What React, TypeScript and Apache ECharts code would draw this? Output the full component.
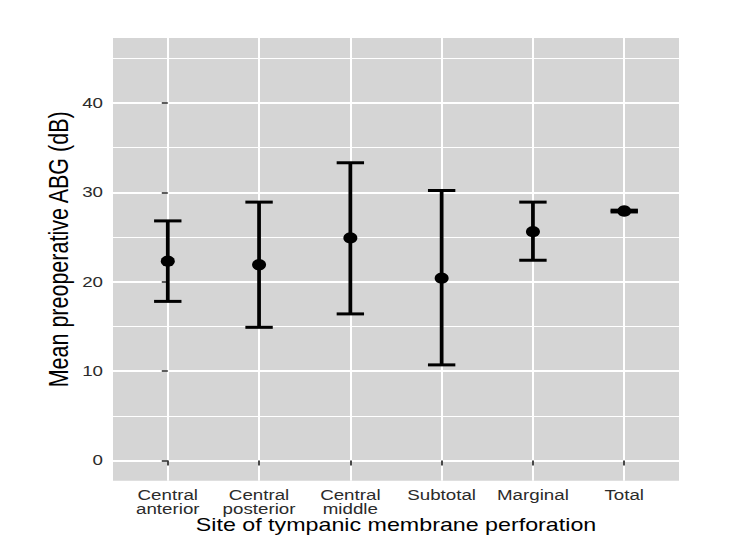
import { useEffect, useRef } from 'react';
import * as echarts from 'echarts';

// Mean preoperative air-bone gap (dB) ± SD by perforation site
const CATEGORIES = ['Central\nanterior', 'Central\nposterior', 'Central\nmiddle', 'Subtotal', 'Marginal', 'Total'];
const MEAN = [22.3, 21.9, 24.9, 20.4, 25.6, 27.9];
const LOWER = [17.8, 14.9, 16.4, 10.7, 22.4, 27.8];
const UPPER = [26.8, 28.9, 33.3, 30.2, 28.9, 28.0];
const Y_TICKS = [0, 10, 20, 30, 40];
const Y_MINOR = [5, 15, 25, 35, 45];
const Y_LIMITS = [0, 45];

const X_TITLE = 'Site of tympanic membrane perforation';
const Y_TITLE = 'Mean preoperative ABG (dB)';

// ggplot-like scale expansion
const Y_PAD = (Y_LIMITS[1] - Y_LIMITS[0]) * 0.05;
const Y_MIN = Y_LIMITS[0] - Y_PAD;
const Y_MAX = Y_LIMITS[1] + Y_PAD;
const X_MIN = -0.6;
const X_MAX = CATEGORIES.length - 1 + 0.6;
const CAP_WIDTH = 0.3;
const STRETCH = 1.25;
const FONT = '"Liberation Sans", Arial, Helvetica, sans-serif';

export default function App() {
  const ref = useRef<HTMLDivElement>(null);

  useEffect(() => {
    if (!ref.current) return;
    const chart = echarts.init(ref.current, null, { renderer: 'svg' });
    const xIdx = CATEGORIES.map((_, i) => i);

    chart.setOption({
      animation: false,
      backgroundColor: '#ffffff',
      grid: {
        left: 113,
        top: 38,
        right: 71,
        bottom: 77.3,
        show: true,
        backgroundColor: '#d5d5d5',
        borderWidth: 0,
      },
      xAxis: {
        type: 'value',
        min: X_MIN,
        max: X_MAX,
        axisLine: { show: false },
        axisTick: { show: true, customValues: xIdx, length: 5, lineStyle: { color: '#333', width: 1.8 } },
        axisLabel: { show: false },
        splitLine: { show: true, lineStyle: { color: '#ffffff', width: 2 } },
      },
      yAxis: [
        {
          type: 'value',
          min: Y_MIN,
          max: Y_MAX,
          axisLine: { show: false },
          axisTick: { show: true, customValues: Y_TICKS, length: 6, lineStyle: { color: '#333', width: 1.6 } },
          axisLabel: { show: false },
          splitLine: { show: true, lineStyle: { color: '#ffffff', width: 2 } },
        },
        {
          type: 'value',
          min: Y_MIN,
          max: Y_MAX,
          position: 'left',
          axisLine: { show: false },
          axisTick: { show: false, customValues: Y_MINOR },
          axisLabel: { show: false },
          splitLine: { show: true, lineStyle: { color: '#ffffff', width: 1.1 } },
        },
      ],
      series: [
        {
          type: 'custom',
          xAxisIndex: 0,
          yAxisIndex: 0,
          data: xIdx.map((i) => [i, LOWER[i], UPPER[i]]),
          renderItem: (_params: any, api: any) => {
            const x = api.value(0);
            const top = api.coord([x, api.value(2)]);
            const bot = api.coord([x, api.value(1)]);
            const half = api.size([CAP_WIDTH, 0])[0] / 2;
            const cap = { stroke: '#000', lineWidth: 3 };
            return {
              type: 'group',
              children: [
                { type: 'line', shape: { x1: top[0], y1: top[1], x2: bot[0], y2: bot[1] }, style: { stroke: '#000', lineWidth: 3.75 } },
                { type: 'line', shape: { x1: top[0] - half, y1: top[1], x2: top[0] + half, y2: top[1] }, style: cap },
                { type: 'line', shape: { x1: bot[0] - half, y1: bot[1], x2: bot[0] + half, y2: bot[1] }, style: cap },
              ],
            };
          },
          z: 3,
        },
        {
          type: 'scatter',
          xAxisIndex: 0,
          yAxisIndex: 0,
          data: xIdx.map((i) => [i, MEAN[i]]),
          symbol: 'circle',
          symbolSize: [14, 11.5],
          itemStyle: { color: '#000', opacity: 1 },
          z: 4,
        },
      ],
    });

    // Axis texts, laid out from the chart's own scales
    const px = (i: number) => chart.convertToPixel({ xAxisIndex: 0 }, i) as number;
    const py = (v: number) => chart.convertToPixel({ yAxisIndex: 0 }, v) as number;
    const left = px(X_MIN);
    const right = px(X_MAX);
    const bottom = py(Y_MIN);
    const topY = py(Y_MAX);

    const graphics: any[] = [];
    CATEGORIES.forEach((c, i) => {
      graphics.push({
        type: 'text',
        x: px(i),
        y: bottom + 7.5,
        scaleX: STRETCH,
        style: {
          text: c,
          font: `15px ${FONT}`,
          fill: '#2b2b2b',
          align: 'center',
          verticalAlign: 'top',
          lineHeight: 14,
        },
      });
    });
    Y_TICKS.forEach((v) => {
      graphics.push({
        type: 'text',
        x: left - 10,
        y: py(v),
        scaleX: STRETCH,
        style: {
          text: String(v),
          font: `15px ${FONT}`,
          fill: '#2b2b2b',
          align: 'right',
          verticalAlign: 'middle',
        },
      });
    });
    graphics.push({
      type: 'text',
      x: (left + right) / 2,
      y: 524,
      scaleX: STRETCH,
      style: {
        text: X_TITLE,
        font: `18.6px ${FONT}`,
        fill: '#000',
        align: 'center',
        verticalAlign: 'middle',
      },
    });
    graphics.push({
      type: 'text',
      x: 58.5,
      y: (topY + bottom) / 2 - 10,
      rotation: Math.PI / 2,
      scaleY: STRETCH,
      style: {
        text: Y_TITLE,
        font: `21.5px ${FONT}`,
        fill: '#000',
        align: 'center',
        verticalAlign: 'middle',
      },
    });
    chart.setOption({ graphic: graphics });

    return () => chart.dispose();
  }, []);

  return (
    <div
      ref={ref}
      style={{ position: 'fixed', left: 0, top: 0, width: 750, height: 558 }}
    />
  );
}
